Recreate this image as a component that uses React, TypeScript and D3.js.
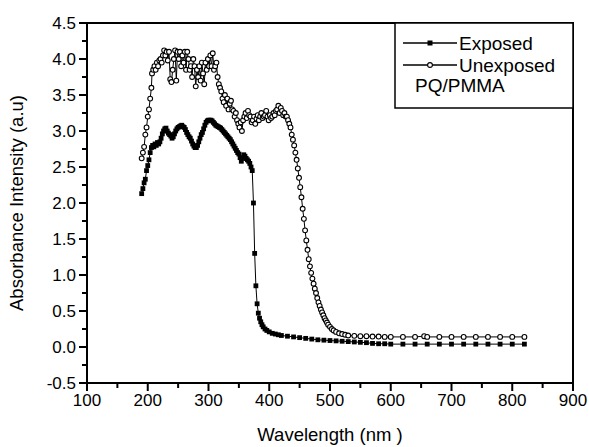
import React from "react";
import * as d3 from "d3";

const expWl = [190,192,194,196,198,200,202,204,206,208,210,212,214,216,218,220,222,224,226,228,230,232,234,236,238,240,242,244,246,248,250,252,254,256,258,260,262,264,266,268,270,272,274,276,278,280,282,284,286,288,290,292,294,296,298,300,302,304,306,308,310,312,314,316,318,320,322,324,326,328,330,332,334,336,338,340,342,344,346,348,350,352,354,356,358,360,362,364,366,368,370,372,374,376,378,380,382,384,386,388,390,393,396,400,405,410,415,420,430,440,450,460,470,480,490,500,510,520,530,540,550,560,570,580,590,600,620,640,660,680,700,720,740,760,780,800,820];
const expAbs = [2.13,2.2,2.28,2.33,2.45,2.52,2.6,2.7,2.77,2.8,2.78,2.82,2.8,2.84,2.82,2.85,2.9,2.96,3.0,3.03,3.04,3.0,2.97,2.95,2.93,2.9,2.92,2.96,3.0,3.03,3.05,3.06,3.07,3.08,3.06,3.05,3.02,2.98,2.95,2.92,2.9,2.86,2.82,2.79,2.77,2.77,2.8,2.85,2.9,2.95,2.98,3.03,3.08,3.12,3.14,3.15,3.15,3.15,3.14,3.12,3.1,3.08,3.07,3.06,3.05,3.04,3.02,3.0,2.98,2.96,2.94,2.92,2.9,2.88,2.85,2.82,2.79,2.76,2.73,2.7,2.68,2.63,2.58,2.62,2.67,2.65,2.62,2.6,2.58,2.55,2.5,2.45,2.0,1.3,0.85,0.6,0.47,0.4,0.35,0.31,0.28,0.25,0.23,0.21,0.19,0.18,0.17,0.16,0.15,0.14,0.13,0.12,0.11,0.1,0.095,0.09,0.085,0.08,0.075,0.07,0.065,0.06,0.05,0.045,0.045,0.04,0.04,0.04,0.04,0.04,0.04,0.04,0.04,0.04,0.04,0.04,0.04];

const unWl = [190,192,194,196,198,200,202,204,206,207,209,211,213,215,217,219,221,223,225,227,229,231,233,235,237,239,241,243,245,247,249,251,253,255,257,259,261,263,265,267,269,271,273,275,277,279,281,283,285,287,289,291,293,295,297,299,301,303,305,307,309,311,313,315,317,319,321,323,325,327,329,331,333,335,337,339,341,343,345,347,349,351,353,355,357,359,361,363,365,367,369,371,373,375,377,379,381,383,385,387,389,391,393,395,397,399,401,403,405,407,409,411,413,415,417,419,421,423,425,427,429,431,433,435,437,439,441,443,445,447,449,451,453,455,457,459,461,463,465,467,469,471,473,475,477,479,481,483,485,487,489,491,493,495,497,500,503,506,510,515,520,525,530,540,550,560,570,580,590,600,620,640,655,660,680,700,720,740,760,780,800,820];
const unAbs = [2.62,2.7,2.78,2.95,3.05,3.2,3.3,3.45,3.6,3.8,3.85,3.9,3.85,3.95,3.9,3.98,4.0,3.95,4.05,4.12,4.05,4.1,3.98,4.1,3.72,3.68,3.85,4.0,4.12,3.7,4.1,4.0,4.1,3.9,4.05,3.95,4.1,3.85,4.1,4.0,3.85,3.9,3.75,4.0,3.9,3.62,3.85,3.75,3.9,3.7,3.95,3.8,3.65,3.95,3.85,4.0,3.9,4.05,3.9,4.08,3.85,3.9,3.95,3.75,3.65,3.6,3.55,3.45,3.4,3.5,3.35,3.45,3.3,3.38,3.42,3.3,3.28,3.2,3.25,3.15,3.1,3.05,3.12,3.0,3.15,3.2,3.25,3.18,3.28,3.22,3.2,3.12,3.15,3.2,3.1,3.17,3.22,3.15,3.2,3.25,3.18,3.2,3.22,3.28,3.2,3.15,3.22,3.18,3.2,3.25,3.22,3.28,3.3,3.35,3.25,3.32,3.28,3.22,3.25,3.2,3.2,3.15,3.1,3.05,2.95,2.88,2.8,2.7,2.6,2.48,2.35,2.22,2.08,1.92,1.78,1.62,1.48,1.35,1.22,1.12,1.03,0.95,0.88,0.81,0.75,0.68,0.62,0.57,0.52,0.48,0.44,0.4,0.37,0.34,0.31,0.28,0.25,0.23,0.21,0.19,0.18,0.17,0.16,0.155,0.15,0.15,0.145,0.145,0.14,0.14,0.14,0.14,0.15,0.14,0.14,0.14,0.14,0.14,0.14,0.14,0.14,0.14];

const xTicks = [100, 200, 300, 400, 500, 600, 700, 800, 900];
const yTicks = [-0.5, 0.0, 0.5, 1.0, 1.5, 2.0, 2.5, 3.0, 3.5, 4.0, 4.5];
const seriesNames = ["Exposed", "Unexposed"];
const legendNote = "PQ/PMMA";
const xTitle = "Wavelength (nm )";
const yTitle = "Absorbance Intensity (a.u)";

const W = 589, H = 447;
const L = 87, R = 573, T = 23, B = 383;
const FONT = "'Liberation Sans', Arial, sans-serif";

export default function App() {
  const x = d3.scaleLinear().domain([100, 900]).range([L, R]);
  const y = d3.scaleLinear().domain([-0.5, 4.5]).range([B, T]);
  const exp = expWl.map((w, i) => [w, expAbs[i]] as [number, number]);
  const un = unWl.map((w, i) => [w, unAbs[i]] as [number, number]);
  const line = d3.line<[number, number]>().x(d => x(d[0])).y(d => y(d[1]));
  const xMinor = d3.range(150, 900, 100);
  const yMinor = d3.range(-0.25, 4.5, 0.5);
  const lx1 = 403, lx2 = 457, lmid = 430;
  return (
    <svg width={W} height={H} style={{ position: "absolute", left: 0, top: 0, background: "#fff" }} fontFamily={FONT}>
      <rect x={0} y={0} width={W} height={H} fill="#fff" />
      {/* series */}
      <path d={line(un) || ""} fill="none" stroke="#000" strokeWidth={1} />
      {un.map((d, i) => (
        <circle key={"u" + i} cx={x(d[0])} cy={y(d[1])} r={2.4} fill="#fff" stroke="#000" strokeWidth={1.1} />
      ))}
      <path d={line(exp) || ""} fill="none" stroke="#000" strokeWidth={1} />
      {exp.map((d, i) => (
        <rect key={"e" + i} x={x(d[0]) - 2.4} y={y(d[1]) - 2.4} width={4.8} height={4.8} fill="#000" />
      ))}
      {/* frame */}
      <rect x={L} y={T} width={R - L} height={B - T} fill="none" stroke="#000" strokeWidth={2} />
      {/* x ticks */}
      {xTicks.map(t => (
        <g key={"xt" + t}>
          <line x1={x(t)} x2={x(t)} y1={B} y2={B + 8} stroke="#000" strokeWidth={2} />
          <text x={x(t)} y={406} textAnchor="middle" fontSize={17}>{t}</text>
        </g>
      ))}
      {xMinor.map(t => (
        <line key={"xm" + t} x1={x(t)} x2={x(t)} y1={B} y2={B + 5} stroke="#000" strokeWidth={2} />
      ))}
      {/* y ticks */}
      {yTicks.map(t => (
        <g key={"yt" + t}>
          <line x1={L - 8} x2={L} y1={y(t)} y2={y(t)} stroke="#000" strokeWidth={2} />
          <text x={76} y={y(t) + 6} textAnchor="end" fontSize={17}>{t.toFixed(1)}</text>
        </g>
      ))}
      {yMinor.map(t => (
        <line key={"ym" + t} x1={L - 5} x2={L} y1={y(t)} y2={y(t)} stroke="#000" strokeWidth={2} />
      ))}
      {/* titles */}
      <text x={(L + R) / 2} y={441} textAnchor="middle" fontSize={18.5}>{xTitle}</text>
      <text transform={`translate(23,${(T + B) / 2}) rotate(-90)`} textAnchor="middle" fontSize={18.5}>{yTitle}</text>
      {/* legend */}
      <rect x={395} y={T} width={R - 395} height={108 - T} fill="#fff" stroke="#000" strokeWidth={1.5} />
      <line x1={lx1} x2={lx2} y1={43} y2={43} stroke="#000" strokeWidth={1.5} />
      <rect x={lmid - 2.5} y={43 - 2.5} width={5} height={5} fill="#000" />
      <text x={459} y={49.5} fontSize={19}>{seriesNames[0]}</text>
      <line x1={lx1} x2={lx2} y1={65} y2={65} stroke="#000" strokeWidth={1.5} />
      <circle cx={lmid} cy={65} r={2.4} fill="#fff" stroke="#000" strokeWidth={1.1} />
      <text x={459} y={71.5} fontSize={19}>{seriesNames[1]}</text>
      <text x={415} y={92} fontSize={19}>{legendNote}</text>
    </svg>
  );
}
